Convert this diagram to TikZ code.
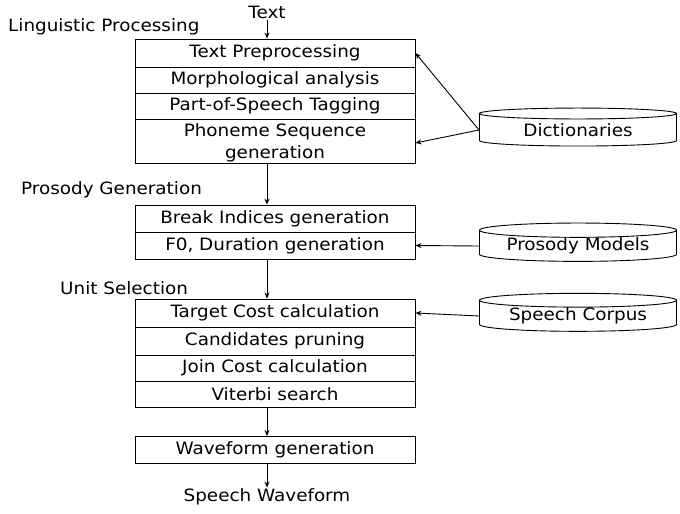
\documentclass[tikz,border=0pt]{standalone}
\usepackage{fontspec}
\setmainfont[FakeStretch=1.08]{DejaVu Sans}
\usetikzlibrary{arrows.meta,shapes.geometric}
\begin{document}
\begin{tikzpicture}[x=1pt,y=-1pt,
  font=\fontsize{17}{19}\selectfont,
  row/.style={draw,line width=0.9pt,minimum width=280pt,inner sep=0pt,align=center},
  store/.style={draw,line width=0.9pt,cylinder,shape border rotate=90,aspect=0.1,
    minimum width=197pt,minimum height=38pt,inner sep=0pt},
  lbl/.style={inner sep=0pt,anchor=west},
  arr/.style={line width=0.9pt,-{Stealth[length=6pt,width=5pt]}}]
\useasboundingbox (0,0) rectangle (680,514);

% Linguistic processing block
\node[row,minimum height=28pt] (tp)  at (275,53)  {Text Preprocessing};
\node[row,minimum height=26pt] (ma)  at (275,80)  {Morphological analysis};
\node[row,minimum height=26pt] (pos) at (275,106) {Part-of-Speech Tagging};
\node[row,minimum height=44pt] (phs) at (275,141) {\rule{0pt}{17pt}Phoneme Sequence\\[3pt]generation};

% Prosody generation block
\node[row,minimum height=27pt] (bi) at (275,218.5) {Break Indices generation};
\node[row,minimum height=27pt] (f0) at (275,245.5) {F0, Duration generation};
\draw[line width=1.8pt] (bi.south west) -- (bi.south east);

% Unit selection block
\node[row,minimum height=28pt] (tc) at (275,313) {Target Cost calculation};
\node[row,minimum height=28pt] (cp) at (275,341) {Candidates pruning};
\node[row,minimum height=26pt] (jc) at (275,368) {Join Cost calculation};
\node[row,minimum height=26pt] (vs) at (275,394) {Viterbi search};

% Waveform generation
\node[row,minimum height=27pt] (wg) at (275,450) {Waveform generation};

% Section labels
\node[lbl] (lp) at (8,27)   {Linguistic Processing};
\node[lbl] (pg) at (21,190) {Prosody Generation};
\node[lbl] (us) at (60,288) {Unit Selection};
\node[inner sep=1pt] (txt) at (267,12) {Text};
\node[inner sep=1pt] (sw)  at (267,497) {Speech Waveform};

% Data stores
\node[store] (dict) at (578,130) {Dictionaries};
\node[store] (pm)   at (578,246) {Prosody Models};
\node[store] (sc)   at (578,316) {Speech Corpus};

% Main flow
\draw[arr] (txt.south) -- (txt.south |- tp.north);
\draw[arr] (phs.south -| txt) -- (bi.north -| txt);
\draw[arr] (f0.south -| txt) -- (tc.north -| txt);
\draw[arr] (vs.south -| txt) -- (wg.north -| txt);
\draw[arr] (wg.south -| txt) -- (sw.north);

% Resource lookups
\draw[arr] (dict.west) -- (tp.east);
\draw[arr] (dict.west) -- ([yshift=-2pt]phs.east);
\draw[arr] (pm.west) -- (f0.east);
\draw[arr] (sc.west) -- (tc.east);
\end{tikzpicture}
\end{document}
